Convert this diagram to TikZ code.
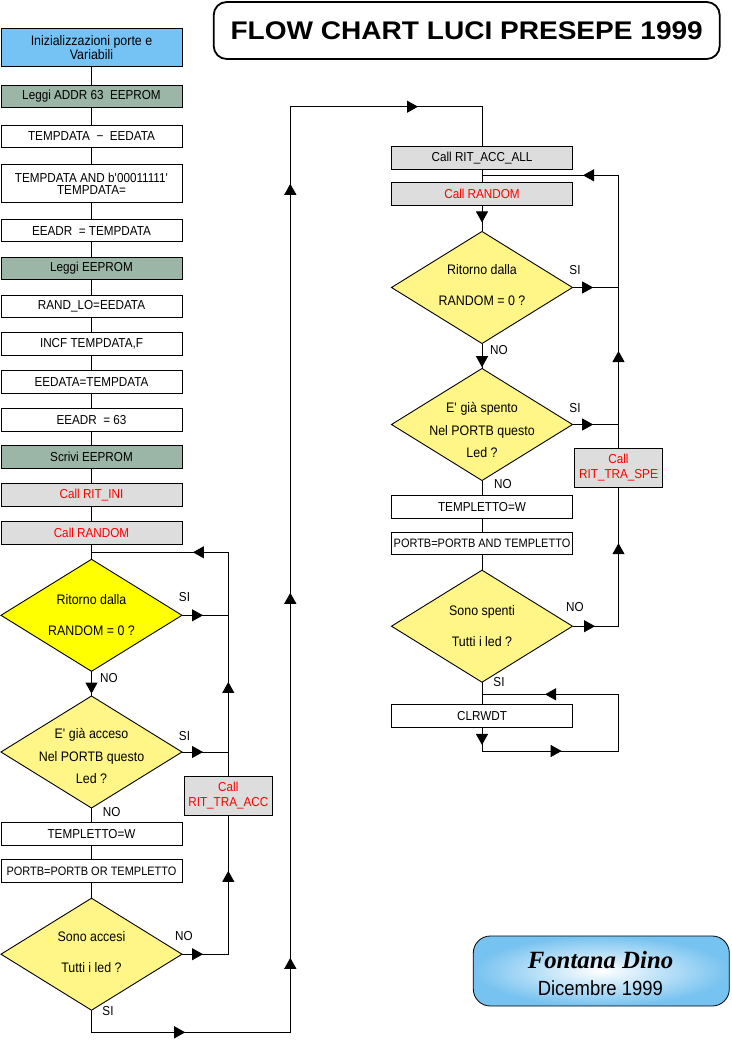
\documentclass[tikz,border=0pt]{standalone}
\usepackage{fontspec}
\setmainfont{Liberation Sans}[FakeStretch=0.9]
\newfontfamily\titlefont{Liberation Sans}[FakeStretch=1.1]
\newfontfamily\sigfont{Liberation Serif}
\usetikzlibrary{shapes.geometric,arrows.meta,decorations.markings}
\definecolor{boxblue}{RGB}{117,195,245}
\definecolor{boxgreen}{RGB}{155,181,166}
\definecolor{boxgrey}{RGB}{221,221,221}
\definecolor{ybright}{RGB}{255,255,0}
\definecolor{ypale}{RGB}{255,246,135}
\definecolor{sigblue}{RGB}{118,194,240}
\begin{document}
\begin{tikzpicture}[x=1pt,y=-1pt,
  every node/.style={inner sep=0pt, outer sep=0pt},
  box/.style={draw=black, line width=0.9pt, minimum width=181pt, minimum height=22.5pt, font=\fontsize{13}{12}\selectfont, align=center},
  greenbox/.style={box, fill=boxgreen},
  greybox/.style={box, fill=boxgrey},
  callred/.style={greybox, text=red},
  longtxt/.style={font=\fontsize{12.2}{12}\selectfont},
  dia/.style={diamond, draw=black, line width=0.9pt, minimum width=181pt, minimum height=112pt},
  dtxt/.style={font=\fontsize{13.8}{31}\selectfont, align=center},
  dtxtt/.style={font=\fontsize{13.8}{22.5}\selectfont, align=center},
  lbl/.style={font=\fontsize{13}{13}\selectfont},
  conn/.style={line width=1pt},
  ar/.style={postaction={decorate, decoration={markings, mark=at position #1 with {\arrow{Triangle[length=11pt,width=12pt]}}}}},
]
\fill[white] (0,0) rectangle (731,1040);
\useasboundingbox (0,0) rectangle (731,1040);

% title
\node[draw=black, line width=1.8pt, rounded corners=13pt, minimum width=506pt, minimum height=57pt,
  font=\titlefont\bfseries\fontsize{25.5}{30}\selectfont] (title) at (466.7,30.5) {FLOW CHART LUCI PRESEPE 1999};

% left column
\node[box, fill=boxblue, minimum height=37.7pt, font=\fontsize{13.8}{12}\selectfont] (b1) at (91.5,47.2) {Inizializzazioni porte e\\Variabili};
\node[greenbox] (b2) at (91.5,96.5) {Leggi ADDR 63\ \ EEPROM};
\node[box] (b3) at (91.5,136.3) {TEMPDATA \ − \ EEDATA};
\node[box, minimum height=38pt] (b4) at (91.5,183.3) {TEMPDATA AND b\textquotesingle 00011111\textquotesingle\\TEMPDATA=};
\node[box] (b5) at (91.5,230.7) {EEADR\ \ = TEMPDATA};
\node[greenbox] (b6) at (91.5,268.3) {Leggi EEPROM};
\node[box] (b7) at (91.5,306.2) {RAND\_LO=EEDATA};
\node[box] (b8) at (91.5,343.8) {INCF TEMPDATA,F};
\node[box] (b9) at (91.5,381.7) {EEDATA=TEMPDATA};
\node[box] (b10) at (91.5,419.8) {EEADR\ \ = 63};
\node[greenbox] (b11) at (91.5,456.8) {Scrivi EEPROM};
\node[callred] (b12) at (91.5,494.8) {Call RIT\_INI};
\node[callred] (b13) at (91.5,532.7) {Call RANDOM};
\node[dia, fill=ybright] (d1) at (91.5,615.3) {};
\node[dtxt] (d1t) at (d1.center) {Ritorno dalla\\RANDOM = 0 ?};
\node[dia, fill=ypale] (d2) at (91.5,752) {};
\node[dtxtt, yshift=-4pt] (d2t) at (d2.center) {E\textquotesingle\ già acceso\\Nel PORTB questo\\Led ?};
\node[box] (b14) at (91.5,833.8) {TEMPLETTO=W};
\node[box, longtxt] (b15) at (91.5,871) {PORTB=PORTB OR TEMPLETTO};
\node[dia, fill=ypale] (d3) at (91.5,954.2) {};
\node[dtxt, yshift=2pt] (d3t) at (d3.center) {Sono accesi\\Tutti i led ?};
\node[callred, minimum width=88pt, minimum height=38.3pt, font=\fontsize{13}{14.5}\selectfont] (acc) at (228.3,795.8) {Call\\RIT\_TRA\_ACC};

% right column
\node[greybox] (r1) at (482,158) {Call RIT\_ACC\_ALL};
\node[callred] (r2) at (482,193.8) {Call RANDOM};
\node[dia, fill=ypale] (rd1) at (482,287.5) {};
\node[dtxt, yshift=2pt] (rd1t) at (rd1.center) {Ritorno dalla\\RANDOM = 0 ?};
\node[dia, fill=ypale] (rd2) at (482,424.5) {};
\node[dtxtt, yshift=-5.5pt] (rd2t) at (rd2.center) {E\textquotesingle\ già spento\\Nel PORTB questo\\Led ?};
\node[box] (r3) at (482,506.7) {TEMPLETTO=W};
\node[box, longtxt] (r4) at (482,543.3) {PORTB=PORTB AND TEMPLETTO};
\node[dia, fill=ypale] (rd3) at (482,626.2) {};
\node[dtxt] (rd3t) at (rd3.center) {Sono spenti\\Tutti i led ?};
\node[box] (r5) at (482,715.7) {CLRWDT};
\node[callred, minimum width=87.4pt, minimum height=39pt, font=\fontsize{13}{14.5}\selectfont] (spe) at (618.5,467.8) {Call\\RIT\_TRA\_SPE};

% signature
\node[draw=black, line width=0.8pt, rounded corners=17pt, minimum width=256pt, minimum height=70pt,
  inner color=white, outer color=sigblue] (sig) at (601.3,971) {};
\node[font=\sigfont\bfseries\itshape\fontsize{24.8}{24.8}\selectfont] (sign) at (600.5,960) {Fontana Dino};
\node[font=\fontsize{20.5}{20.5}\selectfont] (sigd) at (600.3,988.3) {Dicembre 1999};

% left connectors
\foreach \a/\b in {b1/b2,b2/b3,b3/b4,b4/b5,b5/b6,b6/b7,b7/b8,b8/b9,b9/b10,b10/b11,b11/b12,b12/b13}
  \draw[conn] (\a.south) -- (\b.north);
\draw[conn] (b13.south) -- (d1.north);
\draw[conn, ar=22.3pt] (d1.south) -- (d2.north);
\draw[conn] (d2.south) -- (b14.north);
\draw[conn] (b14.south) -- (b15.north);
\draw[conn] (b15.south) -- (d3.north);
\coordinate (cl1) at (228.3,552.3);
\coordinate (jl1) at (b13.south |- cl1);
\draw[conn, ar=21pt] (d1.east) -- (d1.east -| acc.center);
\draw[conn, ar=21pt] (d2.east) -- (d2.east -| acc.center);
\draw[conn, ar=94.7pt, ar=259.7pt] (acc.north) -- (cl1) -- (jl1);
\draw[conn, ar=21pt, ar=129.6pt] (d3.east) -- (d3.east -| acc.center) -- (acc.south);

% long SI path
\coordinate (s1) at (91.5,1032.3);
\coordinate (s2) at (290.3,1032.3);
\coordinate (s3) at (290.3,106.7);
\coordinate (s4) at (482,106.7);
\draw[conn, ar=115.8pt, ar=295.4pt, ar=660.4pt, ar=1069.4pt, ar=1274.2pt] (d3.south) -- (s1) -- (s2) -- (s3) -- (s4) -- (r1.north);

% right connectors
\draw[conn] (r1.south) -- (r2.north);
\draw[conn, ar=17.4pt] (r2.south) -- (rd1.north);
\draw[conn, ar=23.7pt] (rd1.south) -- (rd2.north);
\draw[conn] (rd2.south) -- (r3.north);
\draw[conn] (r3.south) -- (r4.north);
\draw[conn] (r4.south) -- (rd3.north);
\draw[conn] (rd3.south) -- (r5.north);
\draw[conn, ar=20.7pt] (rd1.east) -- (rd1.east -| spe.center);
\draw[conn, ar=20.7pt] (rd2.east) -- (rd2.east -| spe.center);
\coordinate (rc1) at (618.5,175.3);
\coordinate (rj1) at (r1.south |- rc1);
\draw[conn, ar=97.3pt, ar=308.5pt] (spe.north) -- (rc1) -- (rj1);
\draw[conn, ar=22.5pt, ar=129pt] (rd3.east) -- (rd3.east -| spe.center) -- (spe.south);
\coordinate (k1) at (482,751);
\coordinate (k2) at (618.5,751);
\coordinate (k3) at (618.5,694.3);
\coordinate (k4) at (482,694.3);
\draw[conn, ar=18pt, ar=103.7pt, ar=290.7pt] (r5.south) -- (k1) -- (k2) -- (k3) -- (k4);

% labels
\node[lbl] (l1) at (184.5,597) {SI};
\node[lbl] (l2) at (109,678) {NO};
\node[lbl] (l3) at (184.5,736) {SI};
\node[lbl] (l4) at (111.7,811.7) {NO};
\node[lbl] (l5) at (184,935.7) {NO};
\node[lbl] (l6) at (108,1010.7) {SI};
\node[lbl] (l7) at (575,270) {SI};
\node[lbl] (l8) at (499,350) {NO};
\node[lbl] (l9) at (575,407.7) {SI};
\node[lbl] (l10) at (503,483.7) {NO};
\node[lbl] (l11) at (575,607.3) {NO};
\node[lbl] (l12) at (499,682.3) {SI};
\end{tikzpicture}
\end{document}
